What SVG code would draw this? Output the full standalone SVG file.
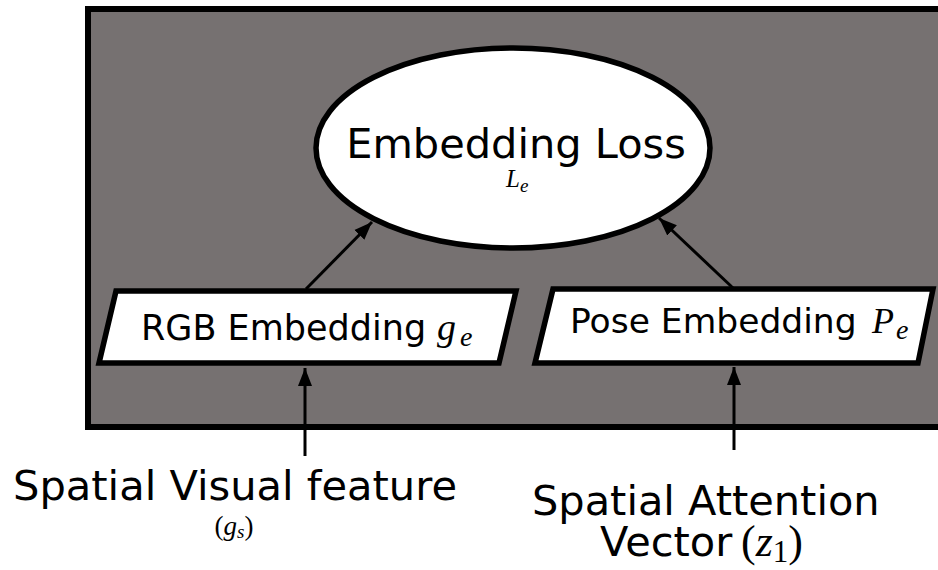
<svg xmlns="http://www.w3.org/2000/svg" width="938" height="570" viewBox="0 0 938 570">
<defs>
<style>
.lbl{font-family:"DejaVu Sans","Verdana",sans-serif;fill:#000}
.m{font-family:"Liberation Serif","DejaVu Serif",serif;font-style:italic}
.r{font-family:"Liberation Serif","DejaVu Serif",serif}
.node{fill:#fff;stroke:#000;stroke-width:5.5}
.conn{stroke:#000;stroke-width:3;fill:none}
</style>
<marker id="ah" markerUnits="userSpaceOnUse" markerWidth="20" markerHeight="20" viewBox="0 0 20 20" refX="18" refY="10" orient="auto">
<path d="M0,3 L18,10 L0,17 Z" fill="#000"/>
</marker>
</defs>
<rect id="background" x="88" y="9" width="870" height="418" fill="#767171" stroke="#000" stroke-width="6"/>
<g id="loss">
<ellipse class="node" cx="513" cy="148" rx="197" ry="100"/>
<text class="lbl" x="516" y="158" font-size="41.5" text-anchor="middle">Embedding Loss</text>
<text class="m" x="506" y="187" font-size="25">L<tspan font-size="19" dy="5">e</tspan></text>
</g>
<g id="rgb">
<polygon class="node" points="116,291 516,291 499,363 99,363"/>
<text class="lbl" x="141" y="340" font-size="35">RGB Embedding</text>
<text class="m" x="437" y="340" font-size="38">g<tspan font-size="28" x="460" dy="6">e</tspan></text>
</g>
<g id="pose">
<polygon class="node" points="553,289 933,289 918,363 535,363"/>
<text class="lbl" x="570" y="333" font-size="34.5">Pose Embedding</text>
<text class="m" x="872" y="333" font-size="36">P<tspan font-size="28" x="896" dy="6">e</tspan></text>
</g>
<g id="visual">
<text class="lbl" x="235" y="500" font-size="41.6" text-anchor="middle">Spatial Visual feature</text>
<text x="234" y="535" font-size="27" text-anchor="middle"><tspan class="r">(</tspan><tspan class="m">g</tspan><tspan class="m" font-size="19" dy="3">s</tspan><tspan class="r" dy="-3">)</tspan></text>
</g>
<g id="attention">
<text class="lbl" font-size="41.5"><tspan x="532" y="515">Spatial Attention</tspan><tspan x="600" y="556">Vector </tspan><tspan class="r" x="741" y="556" font-size="44">(</tspan><tspan class="m" font-size="44">z</tspan><tspan class="r" font-size="31" dy="6">1</tspan><tspan class="r" font-size="44" dy="-6">)</tspan></text>
</g>
<g id="connectors">
<line class="conn" x1="306" y1="289" x2="372" y2="222" marker-end="url(#ah)"/>
<line class="conn" x1="733" y1="288" x2="659" y2="218" marker-end="url(#ah)"/>
<line class="conn" x1="305" y1="456" x2="305" y2="368" marker-end="url(#ah)"/>
<line class="conn" x1="734" y1="450" x2="734" y2="367" marker-end="url(#ah)"/>
</g>
</svg>
